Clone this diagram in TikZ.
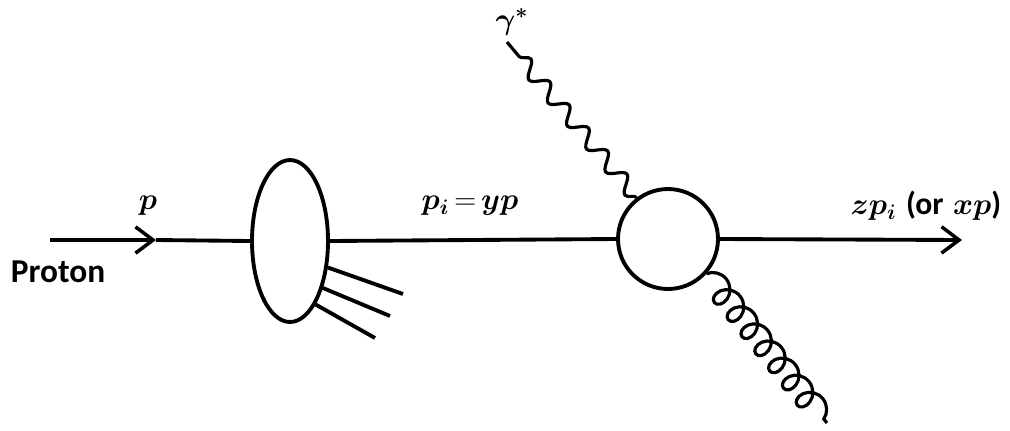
\documentclass[tikz,border=0pt]{standalone}
\usepackage{fontspec}
\setsansfont{Carlito}
\usepackage{amsmath}
\usepackage{bm}
\usetikzlibrary{arrows.meta,decorations.pathmorphing,shapes.geometric}

\begin{document}
\begin{tikzpicture}[x=0.02cm, y=-0.02cm, line width=2.2pt]

% ---------- styles ----------
\tikzset{
  lbl/.style={font=\fontsize{18}{21}\selectfont, inner sep=1pt},
  sflbl/.style={font=\fontsize{19}{22}\selectfont\sffamily\bfseries, inner sep=1pt},
  fermion/.style={-{Straight Barb[length=10pt,width=15pt,line width=2pt]}},
  photon/.style={decorate, decoration={snake, amplitude=0.15cm, segment length=0.6cm, post length=2pt}, line width=1.8pt},
  gluon/.style={decorate, decoration={coil, amplitude=0.24cm, segment length=0.44cm, aspect=0.9}, line width=1.8pt},
  jet/.style={line width=2.2pt}
}

\useasboundingbox (0,0) rectangle (1010,430);

% ---------- coordinates ----------
\coordinate (pin)  at (50,240);
\coordinate (pmid) at (156,240);
\coordinate (pout) at (962,240);
\coordinate (gam)  at (507,42);
\coordinate (glu)  at (827,423);
\coordinate (J1) at (403,294);
\coordinate (J2) at (390,316);
\coordinate (J3) at (375,338);

% ---------- blobs ----------
\node[draw, ellipse, fill=white, minimum width=1.52cm, minimum height=3.24cm, inner sep=0pt] (blob) at (290,241) {};
\node[draw, circle, fill=white, minimum size=2.0cm, inner sep=0pt] (vertex) at (668,239) {};

% ---------- lines ----------
\draw[fermion] (pin) -- (pmid);
\draw (pmid) -- (blob.west);
\draw (blob.east) -- (vertex.west);
\draw[fermion] (vertex.east) -- (pout);

\foreach \a [count=\i from 1] in {-35,-55,-68} {
  \draw[jet] (blob.\a) -- (J\i);
}

\draw[photon] (vertex.127) -- (gam);
\draw[gluon] (vertex.-42) -- (glu);

% ---------- labels ----------
\node[sflbl] (proton) at (58,272) {Proton};
\node[lbl] (plab) at (148,206) {$\bm{p}$};
\node[lbl] (pilab) at (470,206) {$\bm{p_i}\,{=}\,\bm{yp}$};
\node[lbl] (outlab) at (926,206) {$\bm{zp_i}$ \textsf{\bfseries (or} $\bm{xp}$\textsf{\bfseries )}};
\node[lbl] (gamlab) at (512,22) {$\bm{\gamma^*}$};

\end{tikzpicture}
\end{document}
